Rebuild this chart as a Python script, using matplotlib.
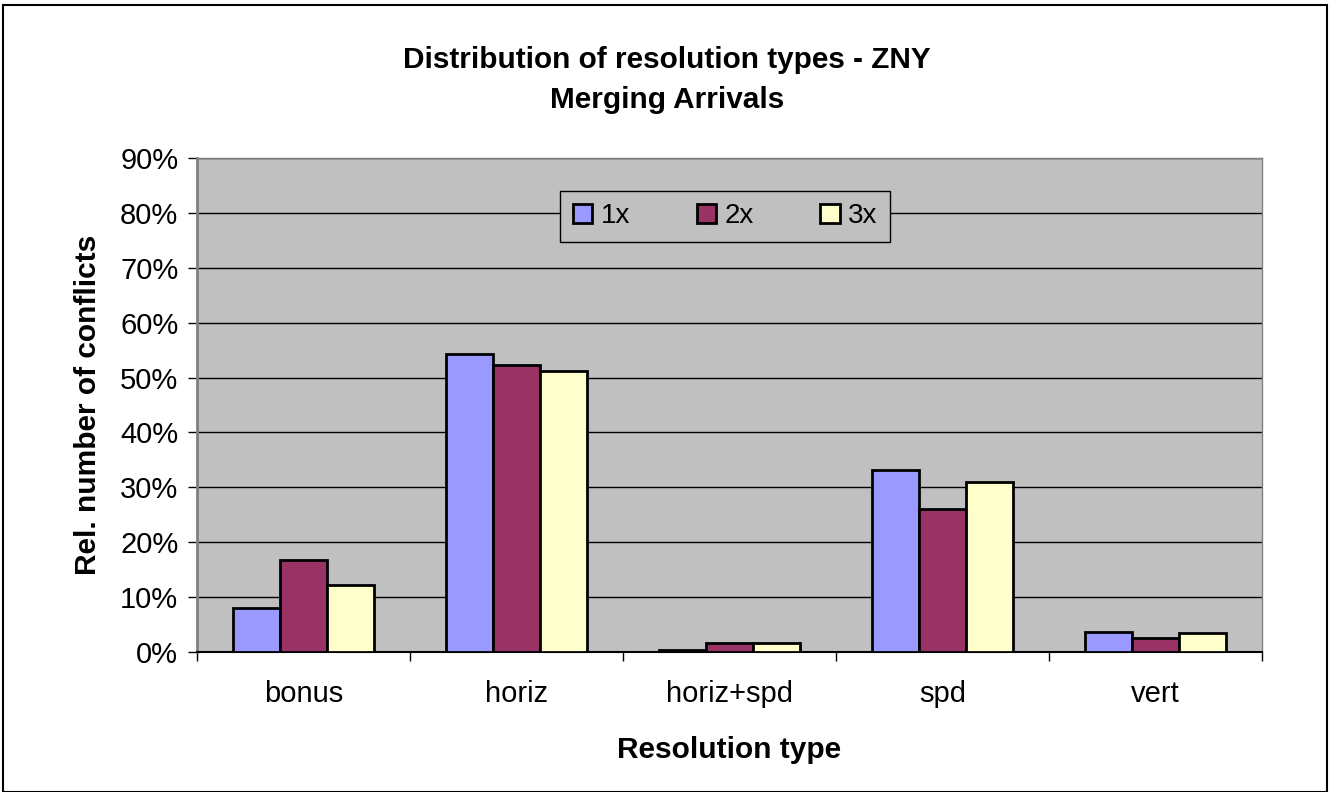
import matplotlib.pyplot as plt
import numpy as np
from matplotlib.patches import Rectangle

# data
categories = ['bonus', 'horiz', 'horiz+spd', 'spd', 'vert']
series_names = ['1x', '2x', '3x']
vals_1x = [8.0, 54.3, 0.3, 33.2, 3.7]
vals_2x = [16.8, 52.2, 1.7, 26.0, 2.5]
vals_3x = [12.2, 51.2, 1.7, 31.0, 3.4]
colors = ['#9999FF', '#993366', '#FFFFCC']
yticks = [0, 10, 20, 30, 40, 50, 60, 70, 80, 90]

plt.rcParams['font.family'] = ['Liberation Sans', 'DejaVu Sans']


def main():
    fig = plt.figure(figsize=(13.31, 7.92), dpi=100)
    W, H = 1331, 792

    # outer chart border
    fig.patches.append(Rectangle((3 / W, 0), (1327 - 3) / W, 1 - 5 / H, transform=fig.transFigure,
                                 fill=False, edgecolor='black', linewidth=1.5))

    ax = fig.add_axes([197 / W, 1 - 652 / H, (1262 - 197) / W, (652 - 158) / H])
    ax.set_facecolor('#C0C0C0')

    x = np.arange(len(categories))
    w = 0.22
    for k, vals in enumerate([vals_1x, vals_2x, vals_3x]):
        ax.bar(x + (k - 1) * w, vals, width=w, color=colors[k], edgecolor='black',
               linewidth=2, label=series_names[k], zorder=3)

    ax.set_xlim(-0.5, len(categories) - 0.5)
    ax.set_ylim(0, 90)
    ax.set_yticks(yticks)
    ax.set_yticklabels([f'{t}%' for t in yticks], fontsize=21)
    ax.yaxis.grid(True, color='black', linewidth=1)
    ax.set_axisbelow(True)

    # category labels centred, tick marks on the separators
    ax.set_xticks(x)
    ax.set_xticklabels(categories, fontsize=21)
    ax.tick_params(axis='x', which='major', length=0, pad=20)
    ax.set_xticks(np.arange(-0.5, len(categories)), minor=True)
    ax.tick_params(axis='x', which='minor', length=6.5, width=1, color='black')
    ax.tick_params(axis='y', length=6.5, width=1, pad=7)

    for side in ['top', 'right']:
        ax.spines[side].set_color('#808080')
        ax.spines[side].set_linewidth(1)
    ax.spines['left'].set_color('#808080')
    ax.spines['left'].set_linewidth(2)
    ax.spines['bottom'].set_color('black')
    ax.spines['bottom'].set_linewidth(1.5)

    ax.set_xlabel('Resolution type', fontsize=21.5, fontweight='bold')
    ax.set_ylabel('Rel. number of conflicts', fontsize=21.5, fontweight='bold')
    ax.xaxis.set_label_coords(0.5, -0.17)
    ax.yaxis.set_label_coords(-0.089, 0.5)

    leg = ax.legend(loc='center', bbox_to_anchor=(0.496, 0.882), ncol=3, fontsize=20,
                    frameon=True, fancybox=False, facecolor='#C0C0C0', edgecolor='black',
                    handlelength=0.7, handleheight=0.7, columnspacing=2.4, handletextpad=0.3,
                    borderpad=0.45)
    leg.get_frame().set_linewidth(1)
    leg.get_frame().set_alpha(1)

    fig.text(667 / W, 1 - 60 / H, 'Distribution of resolution types - ZNY', ha='center', va='center',
             fontsize=21.4, fontweight='bold')
    fig.text(667 / W, 1 - 100 / H, 'Merging Arrivals', ha='center', va='center',
             fontsize=21.4, fontweight='bold')

    fig.savefig('out.png', dpi=100, facecolor='white')


if __name__ == '__main__':
    main()
